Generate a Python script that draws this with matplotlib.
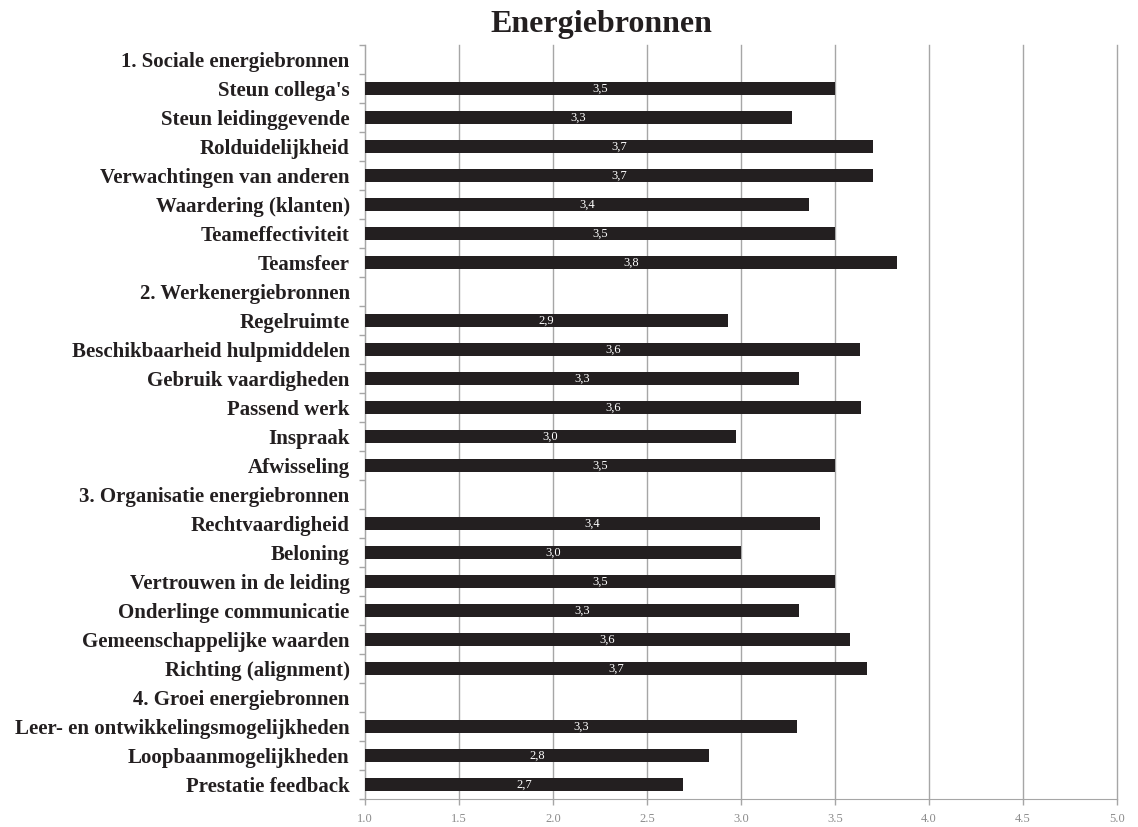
import numpy as np
import matplotlib.pyplot as plt

# categories (top to bottom); section headers have no bar
categories = [
    "1. Sociale energiebronnen",
    "Steun collega's",
    "Steun leidinggevende",
    "Rolduidelijkheid",
    "Verwachtingen van anderen",
    "Waardering (klanten)",
    "Teameffectiviteit",
    "Teamsfeer",
    "2. Werkenergiebronnen",
    "Regelruimte",
    "Beschikbaarheid hulpmiddelen",
    "Gebruik vaardigheden",
    "Passend werk",
    "Inspraak",
    "Afwisseling",
    "3. Organisatie energiebronnen",
    "Rechtvaardigheid",
    "Beloning",
    "Vertrouwen in de leiding",
    "Onderlinge communicatie",
    "Gemeenschappelijke waarden",
    "Richting (alignment)",
    "4. Groei energiebronnen",
    "Leer- en ontwikkelingsmogelijkheden",
    "Loopbaanmogelijkheden",
    "Prestatie feedback",
]

# None = section header row
scores = [
    None, 3.50, 3.27, 3.70, 3.70, 3.36, 3.50, 3.83,
    None, 2.93, 3.635, 3.31, 3.64, 2.975, 3.50,
    None, 3.42, 3.00, 3.50, 3.31, 3.58, 3.67,
    None, 3.30, 2.83, 2.69,
]

x_ticks = [1.0, 1.5, 2.0, 2.5, 3.0, 3.5, 4.0, 4.5, 5.0]

bar_color = '#231f20'
grid_color = '#a6a6a6'
serif = ['Liberation Serif', 'DejaVu Serif']

fig = plt.figure(figsize=(11.38, 8.27), dpi=100)
ax = fig.add_axes([365 / 1138, 1 - 799 / 827, (1117 - 365) / 1138, (799 - 45) / 827])

y = np.arange(len(categories))
base = 1.0
for yi, v in zip(y, scores):
    if v is None:
        continue
    ax.barh(yi, v - base, left=base, height=0.42, color=bar_color, zorder=3)
    label = f"{v:.1f}".replace('.', ',')
    ax.text((base + v) / 2, yi, label, color='white', ha='center', va='center',
            fontsize=9, family=serif, zorder=4)

ax.set_xlim(1.0, 5.0)
ax.set_ylim(len(categories) - 0.5, -0.5)
ax.set_xticks(x_ticks)
ax.set_xticklabels([f"{t:.1f}" for t in x_ticks], family=serif, fontsize=9, color='#8c8c8c')
ax.set_yticks(y)
ax.set_yticklabels(categories, family=serif, fontsize=15, fontweight='bold', color=bar_color)
ax.tick_params(axis='y', length=0, pad=11)
ax.set_yticks(np.arange(len(categories) + 1) - 0.5, minor=True)
ax.tick_params(axis='y', which='minor', length=4, color=grid_color, width=1)
ax.tick_params(axis='x', length=4, color=grid_color, width=1, pad=6)

ax.grid(axis='x', color=grid_color, linewidth=1, zorder=0)
for gl in ax.get_xgridlines():
    gl.set_clip_on(False)
for side in ['top', 'right']:
    ax.spines[side].set_visible(False)
ax.spines['left'].set_color(grid_color)
ax.spines['bottom'].set_color(grid_color)

fig.text(601 / 1138, 1 - 10 / 827, "Energiebronnen", ha='center', va='top',
         family=serif, fontsize=23, fontweight='bold', color=bar_color)

fig.savefig('out.png', dpi=100)
